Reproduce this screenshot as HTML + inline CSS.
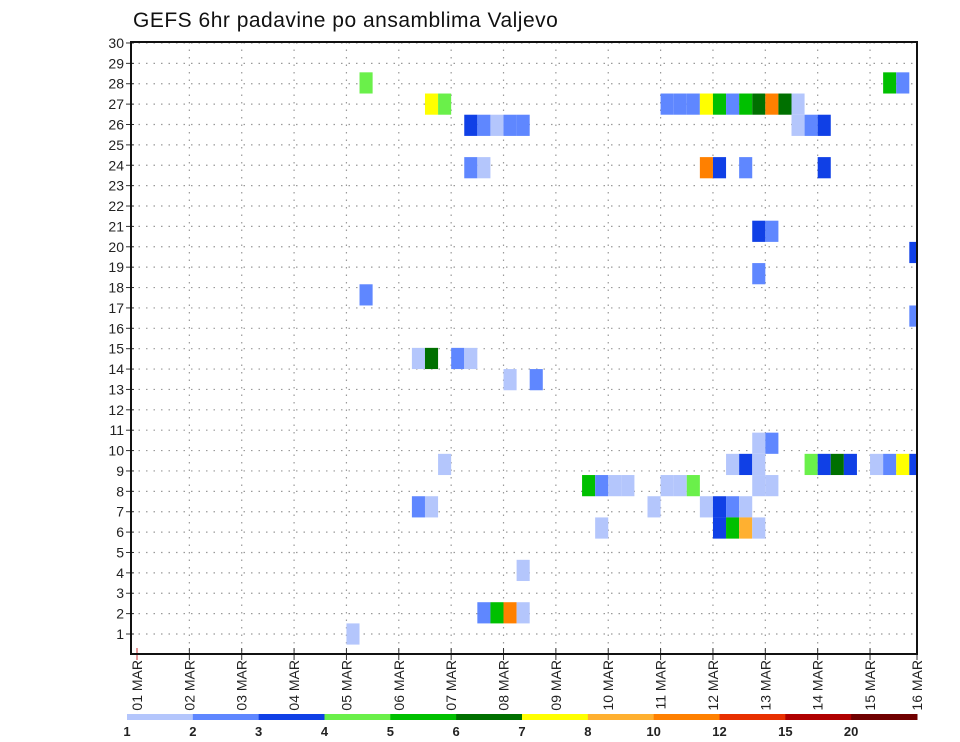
<!DOCTYPE html>
<html><head><meta charset="utf-8">
<style>
html,body{margin:0;padding:0;background:#fff;}
svg{display:block;font-family:"Liberation Sans",sans-serif;}
</style></head>
<body>
<svg id="chart" width="960" height="742" viewBox="0 0 960 742">
<text x="133" y="27" font-size="21" fill="#111" letter-spacing="0.5">GEFS 6hr padavine po ansamblima Valjevo</text>
<g id="grid"></g>
<g id="cells"></g>
<g id="axes"></g>
<g id="legend"></g>
</svg>
<script>
const dayLabels = ["01 MAR","02 MAR","03 MAR","04 MAR","05 MAR","06 MAR","07 MAR","08 MAR","09 MAR","10 MAR","11 MAR","12 MAR","13 MAR","14 MAR","15 MAR","16 MAR"];
const yTicks = [1,2,3,4,5,6,7,8,9,10,11,12,13,14,15,16,17,18,19,20,21,22,23,24,25,26,27,28,29,30];
const levelLabels = ["1","2","3","4","5","6","7","8","10","12","15","20"];
const levelColors = ["#b4c6fc","#5f87ff","#1040e6","#6af04a","#00c000","#007000","#ffff00","#ffb030","#ff8000","#e83000","#b00000","#700000"];
// cells: [timeStep(6h from 01 MAR 00Z), member, colorClass]
const cellTime   = [17,57,58, 22,23,40,41,42,43,44,45,46,47,48,49,50, 25,26,27,28,29,50,51,52, 25,26,43,44,46,52, 47,48, 59, 47, 17, 59, 21,22,24,25, 28,30, 47,48, 23,45,46,47,51,52,53,54,56,57,58,59, 34,35,36,37,40,41,42,47,48, 21,22,39,43,44,45,46, 35,44,45,46,47, 29, 26,27,28,29, 16];
const cellMember = [27,27,27, 26,26,26,26,26,26,26,26,26,26,26,26,26, 25,25,25,25,25,25,25,25, 23,23,23,23,23,23, 20,20, 19, 18, 17, 16, 14,14,14,14, 13,13, 10,10, 9,9,9,9,9,9,9,9,9,9,9,9, 8,8,8,8,8,8,8,8,8, 7,7,7,7,7,7,7, 6,6,6,6,6, 4, 2,2,2,2, 1];
const cellClass  = [3,4,1, 6,3,1,1,1,6,4,1,4,5,8,5,0, 2,1,0,1,1,0,1,2, 1,0,8,2,1,2, 2,1, 2, 1, 1, 1, 0,5,1,0, 0,1, 0,1, 0,0,2,0,3,2,5,2,0,1,6,2, 4,1,0,0,0,0,3,0,0, 1,0,0,0,2,1,0, 0,2,4,7,0, 0, 1,4,8,0, 0];

const NS="http://www.w3.org/2000/svg";
const L=131,R=917,T=42,B=654;
const x0=137, dayW=52.36;
function xDay(d){return x0+d*dayW;}
function xStep(k){return x0+k*dayW/4;}
function yVal(v){return 634-(v-1)*20.38;}
function memberVal(n){return 1+(n-1)*1.04;}
function mk(tag,attrs,parent){const e=document.createElementNS(NS,tag);for(const k in attrs)e.setAttribute(k,attrs[k]);parent.appendChild(e);return e;}
const grid=document.getElementById('grid'),cells=document.getElementById('cells'),axes=document.getElementById('axes'),legend=document.getElementById('legend');

yTicks.forEach(v=>{
  const y=yVal(v);
  const g=mk('line',{x1:L,x2:R,y1:y,y2:y,stroke:'#999','stroke-width':1.2,'stroke-dasharray':'1.5 6'},grid);
  
  
  const t=mk('line',{x1:L-5,x2:L+3,y1:y,y2:y,stroke:'#333','stroke-width':1},axes);
  
  
  const lb=mk('text',{x:L-7,y:y+5,'text-anchor':'end','font-size':14,fill:'#222'},axes);
  lb.textContent=v;
  
  
});
dayLabels.forEach((d,i)=>{
  const x=Math.min(xDay(i),R);
  if(i>0&&i<15){
    const g=mk('line',{x1:x,x2:x,y1:T,y2:B,stroke:'#999','stroke-width':1.2,'stroke-dasharray':'1.5 6'},grid);
    
    
  }
  const t=mk('line',{x1:x,x2:x,y1:B-6,y2:B+6,stroke:i==0?'#c33':'#333','stroke-width':1},axes);
  
  
  const lb=mk('text',{x:0,y:0,'text-anchor':'end','font-size':14,fill:'#222',transform:`translate(${x+5},${B+6}) rotate(-90)`},axes);
  lb.textContent=d;
  
  
});
const ch=20.38*1.04;
for(let i=0;i<cellTime.length;i++){
  const xa=xStep(cellTime[i]);
  const w=Math.min(dayW/4,R-xa);
  const yc=yVal(memberVal(cellMember[i]));
  const r=mk('rect',{x:xa,y:yc-ch/2,width:w,height:ch,fill:levelColors[cellClass[i]]},cells);
  
  
}
const box=mk('rect',{x:L,y:T,width:R-L,height:B-T,fill:'none',stroke:'#111','stroke-width':2},axes);



const cbL=127,cbR=917,cbY=714,cbH=6;
const segW=(cbR-cbL)/levelColors.length;
levelColors.forEach((c,i)=>{
  const r=mk('rect',{x:cbL+i*segW,y:cbY,width:segW+0.5,height:cbH,fill:c},legend);
  
  
  const t=mk('text',{x:cbL+i*segW,y:736,'text-anchor':'middle','font-size':13,'font-weight':'bold',fill:'#222'},legend);
  t.textContent=levelLabels[i];
  
  
});
</script>
</body></html>
